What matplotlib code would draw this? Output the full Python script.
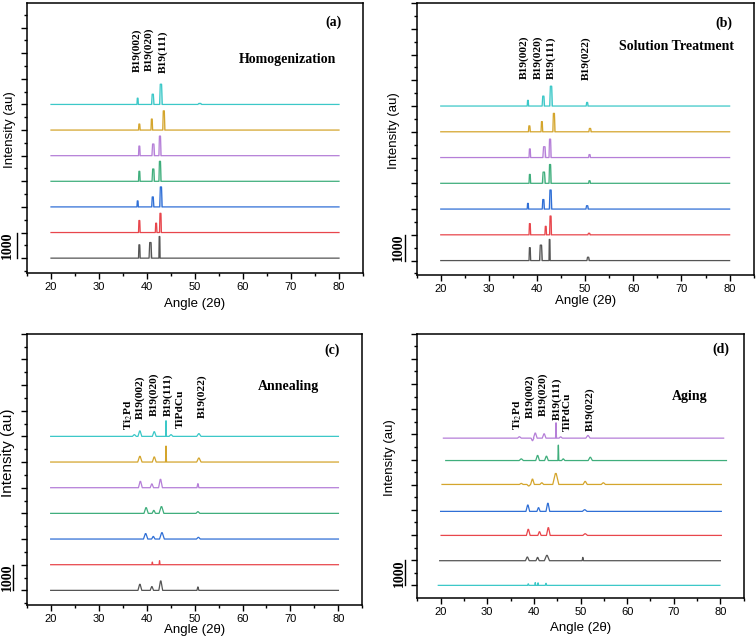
import numpy as np
import matplotlib.pyplot as plt
from matplotlib.ticker import MultipleLocator

plt.rcParams['mathtext.fontset'] = 'stix'

SANS = 'Liberation Sans'
SERIF = 'Liberation Serif'

## Trace colours
BLACK = '#555555'
RED = '#e8464c'
BLUE = '#2f6fd6'
GREEN = '#3fae7c'
PURPLE = '#b57fd8'
GOLD = '#d4a52c'
CYAN = '#3cc8c8'

## Panel (a) Homogenization, traces bottom to top, peaks as (angle, height, width)
a_colors = [BLACK, RED, BLUE, GREEN, PURPLE, GOLD, CYAN]
a_offsets = [0, 1000, 2000, 3000, 4000, 5000, 6000]
a_peaks = [
    [(38.4, 520, 0.35), (40.7, 610, 0.55), (42.6, 845, 0.25)],
    [(38.4, 470, 0.35), (41.9, 365, 0.35), (42.8, 750, 0.4)],
    [(38.05, 235, 0.3), (41.2, 390, 0.45), (42.9, 780, 0.5)],
    [(38.4, 390, 0.35), (41.3, 480, 0.5), (42.7, 780, 0.45)],
    [(38.4, 375, 0.35), (41.3, 455, 0.55), (42.7, 765, 0.45)],
    [(38.4, 235, 0.35), (41.0, 430, 0.35), (43.5, 750, 0.45)],
    [(38.05, 245, 0.3), (41.2, 400, 0.5), (42.9, 790, 0.55), (51.0, 40, 0.8)],
]
a_labels = ['B19(002)', 'B19(020)', 'B19(111)']
a_label_x = [38.0, 40.5, 43.4]
a_label_y = [7270, 7290, 7240]

## Panel (b) Solution Treatment
b_colors = [BLACK, RED, BLUE, GREEN, PURPLE, GOLD, CYAN]
b_offsets = [0, 1000, 2000, 3000, 4000, 5000, 6000]
b_peaks = [
    [(38.5, 500, 0.35), (40.8, 600, 0.55), (42.6, 820, 0.25), (50.6, 130, 0.5)],
    [(38.5, 435, 0.35), (41.8, 330, 0.35), (42.8, 730, 0.4), (50.8, 60, 0.5)],
    [(38.1, 220, 0.3), (41.3, 370, 0.45), (42.8, 740, 0.5), (50.4, 130, 0.5)],
    [(38.5, 345, 0.35), (41.4, 435, 0.6), (42.7, 730, 0.45), (50.9, 100, 0.4)],
    [(38.5, 335, 0.35), (41.5, 420, 0.6), (42.7, 715, 0.45), (50.9, 115, 0.4)],
    [(38.4, 230, 0.4), (41.0, 395, 0.35), (43.5, 715, 0.45), (51.0, 130, 0.5)],
    [(38.1, 220, 0.3), (41.3, 385, 0.5), (42.9, 770, 0.55), (50.4, 140, 0.4)],
]
b_labels = ['B19(002)', 'B19(020)', 'B19(111)', 'B19(022)']
b_label_x = [37.3, 40.1, 43.0, 50.2]
b_label_y = [7060, 7060, 7060, 7000]

## Panel (c) Annealing
c_colors = [BLACK, RED, BLUE, GREEN, PURPLE, GOLD, CYAN]
c_offsets = [0, 1000, 2000, 3000, 4000, 5000, 6000]
c_peaks = [
    [(38.6, 235, 0.8), (41.1, 145, 0.7), (42.95, 365, 0.8), (50.7, 130, 0.4)],
    [(41.2, 100, 0.2), (42.7, 155, 0.2)],
    [(39.8, 210, 0.9), (41.4, 100, 0.7), (43.2, 245, 1.0), (50.8, 65, 0.8)],
    [(39.9, 220, 0.9), (41.5, 115, 0.7), (43.1, 260, 1.0), (50.7, 65, 0.8)],
    [(38.7, 245, 0.8), (41.1, 145, 0.7), (42.9, 325, 0.8), (50.7, 155, 0.4)],
    [(38.6, 220, 0.9), (41.6, 195, 0.8), (44.05, 620, 0.2), (50.9, 155, 0.9)],
    [(37.45, 65, 0.8), (38.6, 210, 0.8), (41.6, 180, 0.8), (44.05, 610, 0.15),
     (45.1, 65, 0.8), (50.9, 105, 0.9)],
]
c_labels = ['Ti$_2$Pd', 'B19(002)', 'B19(020)', 'B19(111)', 'TiPdCu', 'B19(022)']
c_label_x = [36.2, 38.6, 41.6, 44.5, 47.0, 51.6]
c_label_y = [6250, 6680, 6800, 6790, 6310, 6700]

## Panel (d) Aging, traces bottom to top
d_colors = [CYAN, BLACK, RED, BLUE, GOLD, GREEN, PURPLE]
d_offsets = [0, 980, 1985, 2940, 4010, 4960, 5850]
d_start = [19.5, 19.8, 20.1, 20.0, 20.3, 21.1, 20.6]
d_end = [79.9, 80.0, 80.2, 80.2, 80.2, 81.3, 80.7]
d_peaks = [
    [(38.8, 60, 0.3), (40.3, 110, 0.2), (40.9, 100, 0.2), (42.6, 80, 0.3)],
    [(38.6, 145, 0.8), (40.8, 130, 0.7), (42.8, 210, 1.1), (50.5, 130, 0.3)],
    [(38.8, 240, 0.8), (41.2, 145, 0.7), (43.1, 305, 0.8), (51.0, 65, 1.0)],
    [(38.7, 250, 0.8), (41.0, 145, 0.7), (43.0, 320, 0.8), (50.9, 65, 1.0)],
    [(37.3, 40, 0.8), (38.9, -60, 0.8), (39.7, 210, 0.8), (41.7, 65, 0.8),
     (44.7, 435, 1.3), (51.0, 120, 0.9), (54.9, 65, 0.9)],
    [(37.3, 65, 0.9), (40.8, 200, 0.8), (42.7, 170, 0.8), (45.25, 610, 0.2),
     (46.3, 65, 0.7), (52.1, 130, 0.9)],
    [(36.9, 55, 0.8), (39.7, -100, 0.6), (40.3, 200, 0.8), (42.2, 170, 0.8),
     (44.75, 610, 0.2), (45.75, 50, 0.7), (51.6, 105, 0.9)],
]
d_labels = ['Ti$_2$Pd', 'B19(002)', 'B19(020)', 'B19(111)', 'TiPdCu', 'B19(022)']
d_label_x = [36.5, 39.1, 42.0, 44.9, 47.1, 52.0]
d_label_y = [6190, 6650, 6720, 6590, 6120, 6120]

titles = ['Homogenization', 'Solution Treatment', 'Annealing', 'Aging']
title_xy = [(69.3, 7750), (69.0, 8300), (69.6, 7960), (73.4, 7510)]
tags = ['(a)', '(b)', '(c)', '(d)']
tag_xy = [(78.8, 9220), (78.8, 9200), (78.6, 9360), (80.2, 9365)]


def profile(peaks, start, end, top):
    # join baseline and apex points
    xs = [start]
    ys = [0]
    for p, h, w in sorted(peaks):
        xs += [p - w / 2, p - w * top / 2, p + w * top / 2, p + w / 2]
        ys += [0, h, h, 0]
    xs.append(end)
    ys.append(0)
    return np.array(xs), np.array(ys)


fig = plt.figure(figsize=(7.56, 6.42), dpi=100)

rects = [
    [27 / 756, 369 / 642, 336 / 756, 270 / 642],
    [416.7 / 756, 367 / 642, 337 / 756, 272 / 642],
    [26.7 / 756, 37 / 642, 335.7 / 756, 271.3 / 642],
    [417.3 / 756, 44.3 / 642, 326.4 / 756, 264 / 642],
]
ylims = [(-580, 9960), (-560, 10000), (-570, 10000), (-490, 10000)]
label_pads = [4, 1, 0, 4]
ylab_xy = [(-0.033, 0.53), (-0.050, 0.53), (-0.035, 0.56), (-0.065, 0.53)]
ylab_size = [9.5, 9.5, 11, 9.5]
bar_x = [(-0.057, -0.030), (-0.055, -0.036), (-0.058, -0.040), (-0.054, -0.039)]

panels = [
    (a_colors, a_offsets, a_peaks, None, None, a_labels, a_label_x, a_label_y, 0.5, True),
    (b_colors, b_offsets, b_peaks, None, None, b_labels, b_label_x, b_label_y, 0.5, True),
    (c_colors, c_offsets, c_peaks, None, None, c_labels, c_label_x, c_label_y, 0.15, False),
    (d_colors, d_offsets, d_peaks, d_start, d_end, d_labels, d_label_x, d_label_y, 0.15, False),
]

for i, (cols, offs, peaks, starts, ends, labs, lx, ly, top, fill) in enumerate(panels):
    ax = fig.add_axes(rects[i])
    for k in range(len(cols)):
        s = starts[k] if starts else 20
        e = ends[k] if ends else 80
        x, y = profile(peaks[k], s, e, top)
        ax.plot(x, y + offs[k], color=cols[k], lw=0.9)
        if fill:
            ax.fill_between(x, offs[k], y + offs[k], color=cols[k], alpha=0.3, lw=0)

    for lab, xx, yy in zip(labs, lx, ly):
        ax.text(xx, yy, lab, rotation=90, ha='center', va='bottom',
                family=SERIF, fontweight='bold', fontsize=8.2)

    ax.text(title_xy[i][0], title_xy[i][1], titles[i], ha='center', va='center',
            family=SERIF, fontweight='bold', fontsize=10)
    ax.text(tag_xy[i][0], tag_xy[i][1], tags[i], ha='center', va='center',
            family=SERIF, fontweight='bold', fontsize=10)

    # scale bar for 1000 counts
    tr = ax.get_yaxis_transform()
    ax.plot([bar_x[i][1], bar_x[i][1]], [0, 1000], color='black', lw=1,
            transform=tr, clip_on=False)
    ax.text(bar_x[i][0], 500, '1000', rotation=90, ha='center', va='center',
            family=SERIF, fontweight='bold', fontsize=10, transform=tr)

    ax.set_xlim(15, 85)
    ax.set_ylim(*ylims[i])
    ax.xaxis.set_major_locator(MultipleLocator(10))
    ax.xaxis.set_minor_locator(MultipleLocator(5))
    ax.yaxis.set_major_locator(MultipleLocator(1000))
    ax.yaxis.set_minor_locator(MultipleLocator(500))
    ax.set_xticks(np.arange(20, 81, 10))
    ax.tick_params(axis='both', which='major', direction='out', length=4.5, width=1,
                   labelsize=8, pad=2)
    ax.tick_params(axis='both', which='minor', direction='out', length=2.5, width=1)
    ax.tick_params(axis='y', labelleft=False)
    for lbl in ax.get_xticklabels():
        lbl.set_family(SANS)
    for sp in ax.spines.values():
        sp.set_linewidth(1.1)

    ax.set_xlabel('Angle (2\u03b8)', family=SANS, fontsize=9.5, labelpad=label_pads[i])
    ax.set_ylabel('Intensity (au)', family=SANS, fontsize=ylab_size[i])
    ax.yaxis.set_label_coords(*ylab_xy[i])

fig.savefig('out.png', dpi=100)
